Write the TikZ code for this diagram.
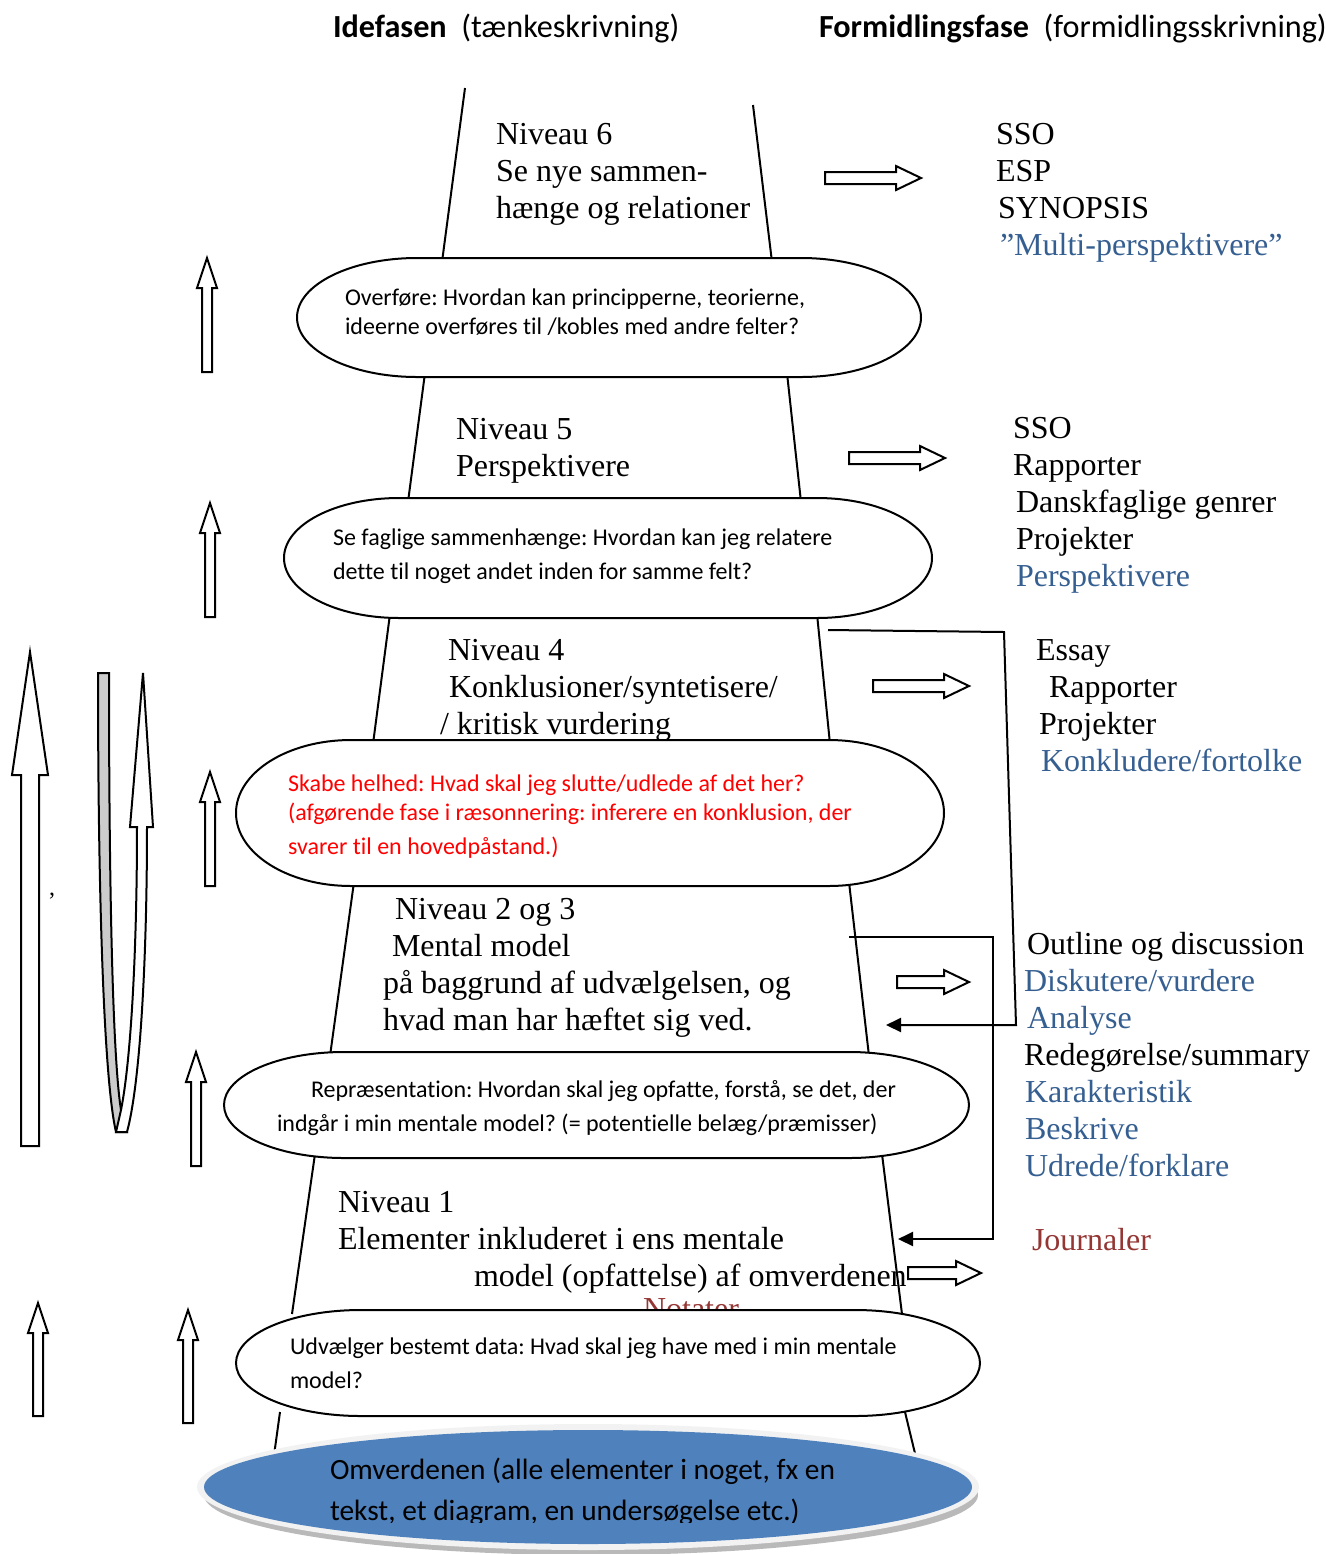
\documentclass[tikz,border=0pt]{standalone}
\usepackage{fontspec}
\setmainfont{Liberation Serif}
\newfontfamily\calib[Ligatures=NoCommon]{Carlito}
\usetikzlibrary{arrows.meta}
\definecolor{lvblue}{HTML}{365F91}
\definecolor{lvred}{HTML}{943634}
\definecolor{omblue}{HTML}{4F81BD}
\frenchspacing

% capsule: x1, y1, x2, y2, end radius
\newcommand{\capsule}[5]{%
  \draw[capsule] ({#1+#5},#2) -- ({#3-#5},#2)
    arc[start angle=-90, end angle=90, x radius=#5, y radius={(#4-#2)/2}]
    -- ({#1+#5},#4)
    arc[start angle=90, end angle=270, x radius=#5, y radius={(#4-#2)/2}]
    -- cycle;}
% hollow block arrow pointing right: x start, x end, y centre
\newcommand{\rightblock}[3]{%
  \draw[hollow] (#1,{#3-6}) -- ({#2-25},{#3-6}) -- ({#2-25},{#3-12}) -- (#2,#3)
    -- ({#2-25},{#3+12}) -- ({#2-25},{#3+6}) -- (#1,{#3+6}) -- cycle;}
% hollow block arrow pointing up: x centre, y tip, y bottom
\newcommand{\upblock}[3]{%
  \draw[hollow] (#1,#2) -- ({#1+10},{#2+30}) -- ({#1+5},{#2+30}) -- ({#1+5},#3)
    -- ({#1-5},#3) -- ({#1-5},{#2+30}) -- ({#1-10},{#2+30}) -- cycle;}

\begin{document}
\begin{tikzpicture}[x=0.5pt,y=-0.5pt,
  every node/.style={inner sep=0pt, outer sep=0pt},
  % multi-line nodes are placed at the baseline of their last line
  lvl/.style={anchor=base west, align=left, font=\fontsize{16}{18.5}\selectfont},
  ques/.style={anchor=base west, align=left, font=\calib\fontsize{12}{17}\selectfont},
  head/.style={anchor=base west, font=\calib\fontsize{16.1}{18}\selectfont},
  side/.style={line width=1pt},
  capsule/.style={draw, line width=1pt, fill=white},
  hollow/.style={draw, line width=1pt, fill=white, line join=miter},
  link/.style={line width=1pt, -{Triangle[length=7.5pt,width=7pt]}}
]
\useasboundingbox (0,0) rectangle (1326,1554);

% column headings
\node[head] (hIde) at (333,37) {\textbf{Idefasen}\ \ (tænkeskrivning)};
\node[head] (hForm) at (819,37) {\textbf{Formidlingsfase}\ \ (formidlingsskrivning)};

% sides of the stacked levels
\draw[side] (465,88) -- (442,262);   \draw[side] (753,105) -- (772,262);
\draw[side] (425,373) -- (408,502);  \draw[side] (787,373) -- (801,502);
\draw[side] (390,614) -- (373,744);  \draw[side] (817,614) -- (830,744);
\draw[side] (354,882) -- (330,1056); \draw[side] (849,882) -- (869,1056);
\draw[side] (315,1154) -- (292,1314); \draw[side] (882,1154) -- (902,1314);
\draw[side] (280,1412) -- (272,1470); \draw[side] (905,1412) -- (919,1470);

% level texts
\node[lvl] (n6) at (496,218) {Niveau 6\\Se nye sammen-\\hænge og relationer};
\node[lvl] (n5) at (456,476) {Niveau 5\\Perspektivere};
\node[lvl] (n4) at (448,734) {Niveau 4\\\hspace{0.5pt}Konklusioner/syntetisere/\\\hspace{-4pt}/ kritisk vurdering};
\node[lvl] (n23) at (395,1030) {Niveau 2 og 3\\\hspace{-1.5pt}Mental model\\\hspace{-6pt}på baggrund af udvælgelsen, og\\\hspace{-6pt}hvad man har hæftet sig ved.};
\node[lvl] (n1) at (338,1286) {Niveau 1\\Elementer inkluderet i ens mentale\\\hspace{68pt}model (opfattelse) af omverdenen};
\node[lvl, text=lvred] (notater) at (643,1319) {Notater};

% question capsules
\capsule{297}{258}{921}{377}{120}
\node[ques, font=\calib\fontsize{12}{14.5}\selectfont] (q6) at (345,334)
  {Overføre: Hvordan kan principperne, teorierne,\\ideerne overføres til /kobles med andre felter?};
\capsule{284}{498}{932}{618}{115}
\node[ques] (q5) at (333,579)
  {Se faglige sammenhænge: Hvordan kan jeg relatere\\dette til noget andet inden for samme felt?};
\capsule{236}{740}{944}{886}{115}
\node[ques, text=red, font=\calib\fontsize{12}{14.5}\selectfont] (q4) at (288,854)
  {Skabe helhed: Hvad skal jeg slutte/udlede af det her?\\(afgørende fase i ræsonnering: inferere en konklusion, der\\[2.5pt]svarer til en hovedpåstand.)};
\capsule{224}{1052}{969}{1158}{120}
\node[ques] (q23) at (277,1131)
  {\hspace{17pt}Repræsentation: Hvordan skal jeg opfatte, forstå, se det, der\\indgår i min mentale model? (= potentielle belæg/præmisser)};
\capsule{236}{1310}{980}{1416}{125}
\node[ques] (q1) at (290,1388)
  {Udvælger bestemt data: Hvad skal jeg have med i min mentale\\model?};

% the surrounding world
\fill[gray!55] (591,1495) ellipse [x radius=387, y radius=60];
\fill[gray!10] (588,1487) ellipse [x radius=391, y radius=63];
\fill[omblue] (588,1487) ellipse [x radius=384, y radius=57];
\begin{scope}
  \clip (0,0) rectangle (1326,1522);
  \node[anchor=base west, align=left, font=\calib\fontsize{14.7}{20.5}\selectfont] (world) at (330,1520)
    {Omverdenen (alle elementer i noget, fx en\\tekst, et diagram, en undersøgelse etc.)};
\end{scope}

% arrows towards the writing genres
\rightblock{825}{921}{178}
\rightblock{849}{945}{458}
\rightblock{873}{969}{686}
\rightblock{897}{969}{982}
\rightblock{908}{981}{1273}

% genre lists
\node[lvl] (g6) at (996,255) {SSO\\ESP\\\hspace{1pt}SYNOPSIS\\\hspace{2pt}\textcolor{lvblue}{”Multi-perspektivere”}};
\node[lvl] (g5) at (1013,586) {SSO\\Rapporter\\\hspace{1.5pt}Danskfaglige genrer\\\hspace{1.5pt}Projekter\\\hspace{1.5pt}\textcolor{lvblue}{Perspektivere}};
\node[lvl] (g4) at (1036,771) {Essay\\\hspace{6.5pt}Rapporter\\\hspace{1.5pt}Projekter\\\hspace{2.5pt}\textcolor{lvblue}{Konkludere/fortolke}};
\node[lvl] (g23) at (1024,1176) {\hspace{1.5pt}Outline og discussion\\\textcolor{lvblue}{Diskutere/vurdere}\\\hspace{1.5pt}\textcolor{lvblue}{Analyse}\\Redegørelse/summary\\\hspace{0.5pt}\textcolor{lvblue}{Karakteristik}\\\hspace{0.5pt}\textcolor{lvblue}{Beskrive}\\\hspace{0.5pt}\textcolor{lvblue}{Udrede/forklare}};
\node[lvl, text=lvred] (g1) at (1032,1250) {Journaler};

% feedback connectors
\coordinate (fa) at (828,630);
\coordinate (fb) at (1004,632);
\coordinate (fc) at (1016,1025);
\coordinate (fd) at (886,1025);
\draw[link] (fa) -- (fb) -- (fc) -- (fd);
\coordinate (ga) at (849,937);
\coordinate (gb) at (993,937);
\coordinate (gc) at (993,1239);
\coordinate (gd) at (898,1239);
\draw[link] (ga) -- (gb) -- (gc) -- (gd);

% small upward arrows between levels
\upblock{207}{258}{372}
\upblock{210}{503}{617}
\upblock{210}{772}{886}
\upblock{196}{1052}{1166}
\upblock{188}{1310}{1423}
\upblock{38}{1303}{1416}

% long upward arrow
\draw[hollow] (30,652) -- (48,775) -- (39,775) -- (39,1146) -- (21,1146)
  -- (21,775) -- (12,775) -- cycle;

% u-turn arrow: back of the ribbon
\draw[hollow, fill=gray!40] (98,673) -- (109,673)
  .. controls (109,900) and (113,1060) .. (121,1110)
  -- (127,1132) -- (116,1132)
  .. controls (104,1080) and (98,900) .. cycle;
% u-turn arrow: front of the ribbon with its head
\draw[hollow] (116,1132) -- (127,1132)
  .. controls (141,1080) and (147,950) .. (147,827)
  -- (153,827) -- (143,673) -- (130,827) -- (137,827)
  .. controls (137,950) and (131,1060) .. (121,1110) -- cycle;

\node[font=\fontsize{12}{14}\selectfont] (mark) at (52,896) {,};
\end{tikzpicture}
\end{document}
